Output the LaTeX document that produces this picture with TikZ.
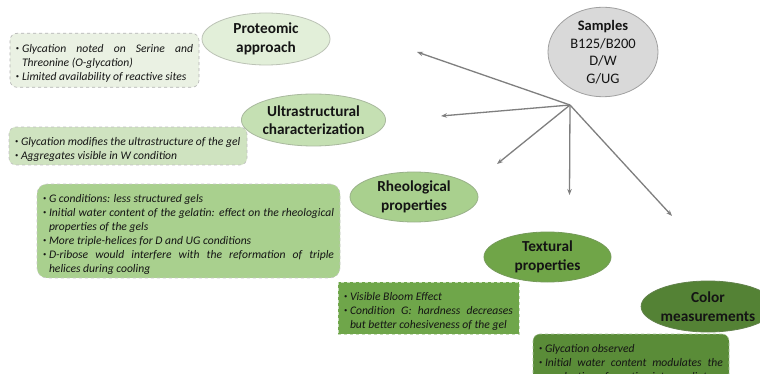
\documentclass[tikz,border=0pt]{standalone}
\usepackage{fontspec}
\setmainfont{Carlito}
\usetikzlibrary{arrows.meta,shapes.geometric}
\definecolor{sampfill}{HTML}{D9D9D9}
\definecolor{sampdraw}{HTML}{A0A0A0}
\definecolor{ellA}{HTML}{E2EFD9}
\definecolor{boxA}{HTML}{EAF1E3}
\definecolor{ellB}{HTML}{C5E0B3}
\definecolor{boxB}{HTML}{CFE3C0}
\definecolor{ellC}{HTML}{A9D08E}
\definecolor{boxC}{HTML}{A9D08E}
\definecolor{ellD}{HTML}{70A548}
\definecolor{boxD}{HTML}{6FA64A}
\definecolor{ellE}{HTML}{548235}
\definecolor{boxE}{HTML}{5A8C38}
\definecolor{arrowgray}{HTML}{7F7F7F}
\definecolor{txt}{HTML}{141414}
\newcommand\bul{\par\noindent\hangindent=6pt\hangafter=1\makebox[6pt][l]{\raisebox{0.25ex}{\scalebox{0.55}{\textbullet}}}}
\tikzset{
  titleell/.style={ellipse, inner sep=0pt, align=center, line width=0.8pt,
    font=\fontsize{15.3}{18.5}\selectfont\bfseries, text=txt},
  notebox/.style={dashed, line width=0.6pt, inner xsep=6pt, inner ysep=4pt,
    align=justify, font=\fontsize{11.6}{14}\selectfont\itshape, text=txt},
  conn/.style={draw=arrowgray, line width=1.3pt, -{Stealth[length=6pt,width=4.5pt]}}
}
\begin{document}
\begin{tikzpicture}[x=1pt,y=-1pt]
\useasboundingbox (0,0) rectangle (760,374);
\clip (0,0) rectangle (760,374);
\fill[white] (0,0) rectangle (760,374);

% ellipses
\node[titleell, fill=sampfill, draw=sampdraw, minimum width=110pt, minimum height=83pt,
      font=\fontsize{14.5}{17.5}\selectfont] (samples) at (603,52)
      {\textbf{Samples}\\B125/B200\\D/W\\G/UG};
\node[titleell, fill=ellA, draw=ellA!60!gray, minimum width=128pt, minimum height=52pt] (prot) at (266,39) {Proteomic\\approach};
\node[titleell, fill=ellB, draw=ellB!60!gray, minimum width=129pt, minimum height=52pt] (ultra) at (313.5,120) {Ultrastructural\\characterization};
\node[titleell, fill=ellC, draw=ellC!60!gray, minimum width=128pt, minimum height=50pt] (rheo) at (414,197) {Rheological\\properties};
\node[titleell, fill=ellD, draw=ellD!70!gray, minimum width=127pt, minimum height=50pt] (text) at (547.5,257) {Textural\\properties};
\node[titleell, fill=ellE, draw=ellE!70!gray, minimum width=130pt, minimum height=51pt] (color) at (708,306.5) {Color\\measurements};

% boxes
\node[notebox, rounded corners=7pt, fill=boxA, draw=gray!60, text width=177pt, minimum height=54pt] (boxprot) at (104.5,60.3)
{\bul Glycation noted on Serine and\linebreak Threonine (O-glycation)\bul Limited availability of reactive sites\par};
\node[notebox, rounded corners=7pt, fill=boxB, draw=gray!50, text width=226pt, minimum height=34pt] (boxultra) at (128,146)
{\bul Glycation modifies the ultrastructure of the gel\bul Aggregates visible in W condition\par};
\node[notebox, rounded corners=10pt, fill=boxC, draw=gray!45, text width=291pt, minimum height=92pt] (boxrheo) at (188.5,231)
{\bul G conditions: less structured gels\bul Initial water content of the gelatin: effect on the rheological\linebreak properties of the gels\bul More triple-helices for D and UG conditions\bul D-ribose would interfere with the reformation of triple\linebreak helices during cooling\par};
\node[notebox, fill=boxD, draw=white!60!boxD, text width=169pt, minimum height=50pt] (boxtext) at (428.5,308)
{\bul Visible Bloom Effect\bul Condition G: hardness decreases\linebreak but better cohesiveness of the gel\par};
\node[notebox, rounded corners=7pt, fill=boxE, draw=white!50!boxE, text width=184pt, minimum height=52pt] (boxcolor) at (631,360)
{\bul Glycation observed\bul Initial water content modulates the\linebreak production of reaction intermediates\par};

% arrows
\coordinate (hub) at (570,105);
\coordinate (e1) at (417,52);
\coordinate (e2) at (441,116);
\coordinate (e3) at (497,164);
\coordinate (e4) at (569.5,195);
\coordinate (e5) at (672,216);
\draw[conn] (hub) -- (e1);
\draw[conn] (hub) -- (e2);
\draw[conn] (hub) -- (e3);
\draw[conn] (hub) -- (e4);
\draw[conn] (hub) -- (e5);
\end{tikzpicture}
\end{document}
